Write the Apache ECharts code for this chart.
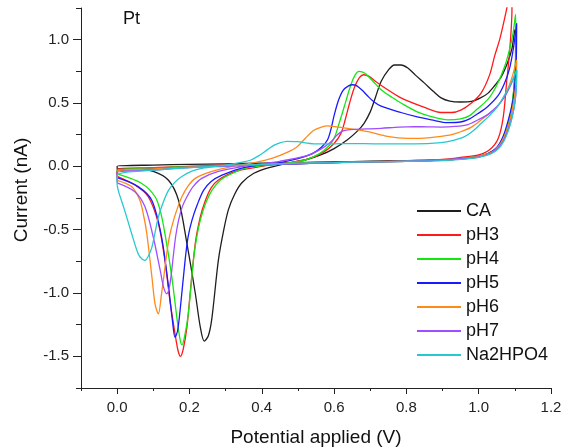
<!DOCTYPE html>
<html>
<head>
<meta charset="utf-8">
<script src="https://cdn.jsdelivr.net/npm/echarts@6/dist/echarts.min.js"></script>
<style>html,body{margin:0;padding:0;background:#fff}#c{width:564px;height:448px}</style>
</head>
<body>
<div id="c"></div>
<script>
// Tick labels
const xTickValues = [0, 0.2, 0.4, 0.6, 0.8, 1.0, 1.2];
const yTickValues = [-1.5, -1.0, -0.5, 0, 0.5, 1.0];
const seriesNames = ['CA', 'pH3', 'pH4', 'pH5', 'pH6', 'pH7', 'Na2HPO4'];

// Cyclic voltammograms: [potential (V), current (nA)], forward scan then return scan
const CA = [[0,-0.02],[0.05,-0.02],[0.1,-0.04],[0.142,-0.11],[0.17,-0.27],[0.193,-0.61],[0.216,-1.0],[0.23,-1.27],[0.241,-1.38],[0.252,-1.34],[0.262,-1.2],[0.28,-0.74],[0.295,-0.5],[0.308,-0.34],[0.325,-0.22],[0.345,-0.13],[0.378,-0.055],[0.42,-0.01],[0.47,0.024],[0.52,0.05],[0.563,0.09],[0.6,0.14],[0.637,0.21],[0.665,0.28],[0.683,0.34],[0.7,0.43],[0.715,0.55],[0.73,0.67],[0.75,0.76],[0.767,0.8],[0.785,0.8],[0.804,0.776],[0.825,0.72],[0.85,0.657],[0.875,0.59],[0.896,0.54],[0.92,0.515],[0.95,0.508],[0.98,0.512],[1.005,0.54],[1.026,0.578],[1.045,0.64],[1.063,0.71],[1.08,0.82],[1.092,0.93],[1.1,1.08],
  [1.102,0.85],[1.097,0.6],[1.09,0.42],[1.08,0.3],[1.065,0.2],[1.045,0.13],[1.02,0.09],[0.98,0.065],[0.9,0.05],[0.8,0.045],[0.7,0.04],[0.6,0.035],[0.5,0.03],[0.4,0.025],[0.3,0.02],[0.2,0.015],[0.1,0.01],[0,0.0],[0,-0.02]];
const pH3 = [[0,-0.08],[0.049,-0.148],[0.086,-0.24],[0.114,-0.45],[0.132,-0.74],[0.146,-1.06],[0.16,-1.32],[0.168,-1.45],[0.175,-1.5],[0.183,-1.44],[0.193,-1.27],[0.202,-1.0],[0.216,-0.61],[0.23,-0.4],[0.244,-0.27],[0.26,-0.17],[0.28,-0.108],[0.327,-0.04],[0.4,0.0],[0.48,0.03],[0.53,0.06],[0.57,0.11],[0.6,0.18],[0.619,0.26],[0.63,0.36],[0.643,0.5],[0.656,0.62],[0.67,0.7],[0.682,0.723],[0.697,0.71],[0.715,0.67],[0.74,0.62],[0.785,0.54],[0.85,0.465],[0.896,0.425],[0.925,0.425],[0.952,0.446],[0.98,0.5],[1.007,0.58],[1.03,0.72],[1.044,0.87],[1.058,1.0],[1.068,1.12],[1.08,1.28],[1.09,1.45],
  [1.092,1.24],[1.086,0.92],[1.077,0.657],[1.068,0.39],[1.054,0.22],[1.03,0.13],[1.0,0.09],[0.95,0.07],[0.9,0.055],[0.8,0.045],[0.7,0.035],[0.6,0.03],[0.5,0.025],[0.4,0.015],[0.3,0.01],[0.2,0.0],[0.1,-0.01],[0,-0.02],[0,-0.08]];
const pH4 = [[0,-0.06],[0.068,-0.135],[0.105,-0.24],[0.12,-0.36],[0.132,-0.53],[0.151,-0.87],[0.165,-1.19],[0.173,-1.35],[0.179,-1.41],[0.186,-1.35],[0.197,-1.16],[0.211,-0.74],[0.22,-0.56],[0.23,-0.425],[0.245,-0.29],[0.262,-0.19],[0.285,-0.11],[0.308,-0.07],[0.36,-0.01],[0.46,0.02],[0.52,0.05],[0.56,0.1],[0.585,0.16],[0.6,0.22],[0.614,0.34],[0.628,0.47],[0.646,0.64],[0.658,0.72],[0.669,0.749],[0.685,0.735],[0.705,0.68],[0.73,0.604],[0.76,0.545],[0.785,0.5],[0.83,0.43],[0.869,0.393],[0.915,0.367],[0.95,0.375],[0.975,0.4],[0.995,0.45],[1.026,0.53],[1.05,0.64],[1.072,0.79],[1.085,0.92],[1.095,1.05],[1.102,1.2],
  [1.103,0.95],[1.1,0.72],[1.095,0.55],[1.087,0.4],[1.075,0.27],[1.06,0.18],[1.04,0.12],[1.01,0.085],[0.96,0.065],[0.9,0.05],[0.8,0.04],[0.7,0.035],[0.6,0.03],[0.5,0.02],[0.4,0.015],[0.3,0.005],[0.2,0.0],[0.1,-0.015],[0,-0.03],[0,-0.06]];
const pH5 = [[0,-0.09],[0.058,-0.16],[0.096,-0.27],[0.123,-0.56],[0.142,-0.95],[0.153,-1.22],[0.16,-1.35],[0.167,-1.3],[0.174,-1.14],[0.188,-0.74],[0.196,-0.56],[0.207,-0.425],[0.222,-0.3],[0.239,-0.19],[0.26,-0.12],[0.29,-0.07],[0.35,-0.01],[0.45,0.03],[0.5,0.06],[0.54,0.1],[0.565,0.15],[0.582,0.21],[0.592,0.3],[0.6,0.4],[0.612,0.52],[0.625,0.6],[0.64,0.635],[0.651,0.644],[0.663,0.635],[0.678,0.6],[0.693,0.555],[0.71,0.51],[0.73,0.475],[0.785,0.425],[0.83,0.39],[0.869,0.367],[0.915,0.345],[0.95,0.35],[0.975,0.375],[1.0,0.42],[1.026,0.475],[1.054,0.56],[1.072,0.66],[1.086,0.78],[1.097,0.95],[1.105,1.13],
  [1.104,0.85],[1.1,0.65],[1.095,0.525],[1.082,0.367],[1.068,0.24],[1.05,0.15],[1.025,0.1],[0.99,0.075],[0.95,0.06],[0.9,0.05],[0.8,0.04],[0.7,0.035],[0.6,0.03],[0.5,0.02],[0.4,0.015],[0.3,0.005],[0.2,-0.005],[0.1,-0.02],[0,-0.04],[0,-0.09]];
const pH6 = [[0,-0.11],[0.04,-0.16],[0.063,-0.27],[0.074,-0.4],[0.082,-0.53],[0.096,-0.87],[0.105,-1.09],[0.114,-1.164],[0.123,-1.0],[0.13,-0.85],[0.137,-0.69],[0.145,-0.55],[0.156,-0.425],[0.168,-0.32],[0.179,-0.24],[0.195,-0.16],[0.216,-0.095],[0.262,-0.04],[0.32,0.0],[0.38,0.03],[0.43,0.065],[0.47,0.11],[0.498,0.155],[0.52,0.22],[0.544,0.285],[0.565,0.31],[0.582,0.319],[0.61,0.31],[0.637,0.3],[0.693,0.274],[0.748,0.236],[0.79,0.222],[0.822,0.22],[0.86,0.225],[0.896,0.236],[0.925,0.25],[0.952,0.275],[0.98,0.31],[1.007,0.367],[1.03,0.42],[1.054,0.48],[1.07,0.55],[1.082,0.62],[1.095,0.73],[1.105,0.84],
  [1.104,0.7],[1.1,0.57],[1.093,0.45],[1.083,0.33],[1.07,0.23],[1.055,0.16],[1.035,0.11],[1.0,0.08],[0.95,0.06],[0.9,0.05],[0.8,0.04],[0.7,0.035],[0.6,0.03],[0.5,0.025],[0.4,0.015],[0.3,0.005],[0.2,-0.005],[0.1,-0.02],[0,-0.04],[0,-0.11]];
const pH7 = [[0,-0.13],[0.049,-0.2],[0.077,-0.32],[0.1,-0.56],[0.119,-0.82],[0.128,-0.95],[0.137,-1.006],[0.146,-0.93],[0.156,-0.69],[0.162,-0.55],[0.17,-0.425],[0.18,-0.32],[0.193,-0.24],[0.21,-0.16],[0.234,-0.095],[0.28,-0.04],[0.35,0.0],[0.45,0.04],[0.52,0.08],[0.56,0.13],[0.59,0.19],[0.609,0.25],[0.625,0.28],[0.645,0.29],[0.69,0.295],[0.73,0.3],[0.78,0.31],[0.822,0.313],[0.86,0.312],[0.896,0.31],[0.935,0.315],[0.97,0.33],[1.0,0.37],[1.026,0.41],[1.05,0.47],[1.072,0.55],[1.09,0.65],[1.105,0.76],
  [1.104,0.62],[1.1,0.5],[1.093,0.4],[1.083,0.3],[1.07,0.21],[1.055,0.15],[1.035,0.105],[1.0,0.075],[0.95,0.06],[0.9,0.05],[0.8,0.04],[0.7,0.035],[0.6,0.03],[0.5,0.02],[0.4,0.01],[0.3,0.0],[0.2,-0.01],[0.1,-0.03],[0,-0.05],[0,-0.13]];
const Na2HPO4 = [[0,-0.15],[0.005,-0.21],[0.021,-0.35],[0.04,-0.53],[0.058,-0.69],[0.068,-0.73],[0.077,-0.742],[0.086,-0.71],[0.096,-0.64],[0.105,-0.52],[0.114,-0.4],[0.128,-0.28],[0.142,-0.19],[0.16,-0.125],[0.179,-0.08],[0.205,-0.04],[0.234,-0.016],[0.3,0.01],[0.34,0.03],[0.37,0.05],[0.395,0.09],[0.415,0.13],[0.433,0.165],[0.45,0.185],[0.47,0.197],[0.498,0.195],[0.544,0.178],[0.6,0.178],[0.637,0.18],[0.73,0.177],[0.822,0.177],[0.896,0.187],[0.93,0.205],[0.961,0.234],[0.985,0.28],[1.007,0.34],[1.03,0.4],[1.054,0.48],[1.075,0.58],[1.09,0.66],[1.105,0.76],
  [1.104,0.63],[1.1,0.5],[1.093,0.39],[1.083,0.29],[1.07,0.2],[1.055,0.14],[1.035,0.1],[1.0,0.07],[0.95,0.055],[0.9,0.045],[0.8,0.04],[0.7,0.035],[0.6,0.03],[0.5,0.025],[0.4,0.015],[0.3,0.005],[0.2,-0.01],[0.1,-0.03],[0,-0.07],[0,-0.15]];

const dataSets = [CA, pH3, pH4, pH5, pH6, pH7, Na2HPO4];
const colors = ['#1e1e1e', '#ff1a1a', '#14e614', '#1a1aff', '#ff8a1a', '#a04dff', '#26c9cf'];

const FONT = "'Liberation Sans', Arial, sans-serif";
const chart = echarts.init(document.getElementById('c'), null, {renderer: 'canvas'});
const line = {show: true, onZero: false, lineStyle: {color: '#222', width: 1}};
chart.setOption({
  animation: false,
  backgroundColor: '#fff',
  grid: {left: 81, right: 13, top: 8, bottom: 60, containLabel: false, outerBoundsMode: 'none'},
  xAxis: [
    {
      type: 'value', min: -0.1, max: 1.2, interval: 0.1, position: 'bottom',
      axisLine: line, splitLine: {show: false},
      axisTick: {show: true, length: 6, customValues: xTickValues, lineStyle: {color: '#222'}},
      axisLabel: {show: true, customValues: xTickValues, margin: 12, fontSize: 15, color: '#222', fontFamily: FONT,
        formatter: v => v.toFixed(1)},
      name: 'Potential applied (V)', nameLocation: 'middle', nameGap: 40,
      nameTextStyle: {fontSize: 19, color: '#111', fontFamily: FONT}
    },
    {
      type: 'value', min: -0.1, max: 1.2, interval: 0.1, position: 'bottom',
      axisLine: {show: false, onZero: false}, splitLine: {show: false}, axisLabel: {show: false},
      axisTick: {show: true, length: 3, lineStyle: {color: '#222'}}
    }
  ],
  yAxis: [
    {
      type: 'value', min: -1.75, max: 1.25, interval: 0.25, position: 'left',
      axisLine: line, splitLine: {show: false},
      axisTick: {show: true, length: 8, customValues: yTickValues, lineStyle: {color: '#222'}},
      axisLabel: {show: true, customValues: yTickValues, margin: 12, fontSize: 15, color: '#222', fontFamily: FONT,
        formatter: v => v.toFixed(1)}
    },
    {
      type: 'value', min: -1.75, max: 1.25, interval: 0.25, position: 'left',
      axisLine: {show: false, onZero: false}, splitLine: {show: false}, axisLabel: {show: false},
      axisTick: {show: true, length: 5, lineStyle: {color: '#222'}}
    }
  ],
  legend: {
    orient: 'vertical', left: 416, top: 202, padding: 0,
    itemWidth: 44, itemHeight: 18, itemGap: 6,
    itemStyle: {opacity: 0},
    textStyle: {fontSize: 18, color: '#111', fontFamily: FONT},
    data: seriesNames
  },
  graphic: [
    {type: 'text', left: 123, top: 10, style: {text: 'Pt', fontSize: 18, fill: '#111', fontFamily: FONT}},
    {type: 'text', x: 22, y: 190, rotation: Math.PI / 2,
      style: {text: 'Current (nA)', fontSize: 19, fill: '#111', fontFamily: FONT, align: 'center', verticalAlign: 'middle'}}
  ],
  series: dataSets.map((d, i) => ({
    name: seriesNames[i], type: 'line', data: d, xAxisIndex: 0, yAxisIndex: 0,
    symbol: 'none', smooth: 0.3, clip: true,
    lineStyle: {color: colors[i], width: 1.3}, itemStyle: {color: colors[i]}
  }))
});
</script>
</body>
</html>
